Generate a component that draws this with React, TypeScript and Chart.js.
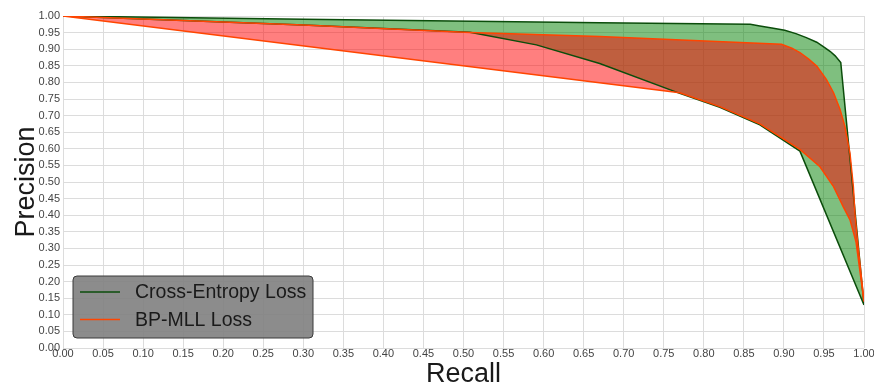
import React, { useEffect, useRef } from "react";
import { Chart, registerables } from "chart.js";

Chart.register(...registerables);

// Cross-Entropy Loss band
const ceUpperRecall = [0, 0.3, 0.67, 0.858, 0.87, 0.885, 0.901, 0.915, 0.928, 0.941, 0.951, 0.958, 0.964, 0.971, 1.0];
const ceUpperPrecision = [1, 0.99, 0.98, 0.975, 0.97, 0.964, 0.957, 0.947, 0.935, 0.921, 0.905, 0.893, 0.88, 0.86, 0.13];
const ceLowerRecall = [0, 0.3, 0.508, 0.591, 0.67, 0.77, 0.82, 0.87, 0.92, 1.0];
const ceLowerPrecision = [1, 0.973, 0.951, 0.913, 0.857, 0.767, 0.725, 0.672, 0.593, 0.13];

// BP-MLL Loss band
const bpUpperRecall = [0, 0.3, 0.508, 0.67, 0.897, 0.91, 0.92, 0.931, 0.941, 0.953, 0.962, 0.97, 0.976, 0.9825, 0.9867, 0.9888, 0.992, 1.0];
const bpUpperPrecision = [1, 0.973, 0.95, 0.938, 0.915, 0.903, 0.89, 0.87, 0.849, 0.809, 0.769, 0.719, 0.669, 0.586, 0.486, 0.4, 0.32, 0.14];
const bpLowerRecall = [0, 0.77, 0.82, 0.87, 0.92, 0.945, 0.962, 0.974, 0.9825, 0.99, 1.0];
const bpLowerPrecision = [1, 0.769, 0.727, 0.675, 0.598, 0.546, 0.486, 0.426, 0.386, 0.32, 0.14];

const seriesNames = ["Cross-Entropy Loss", "BP-MLL Loss"];
const lineColors = ["#0b4d0b", "#ff4500"];
const fillColors = ["rgba(0,128,0,0.5)", "rgba(255,0,0,0.5)"];
const axisTitles = { x: "Recall", y: "Precision" };

const pts = (xs: number[], ys: number[]) => xs.map((x, i) => ({ x, y: ys[i] }));

const FONT = "'Liberation Sans', Arial, sans-serif";

const overlayPlugin = {
  id: "overlay",
  afterDraw(chart: any) {
    const ctx = chart.ctx;
    const a = chart.chartArea;
    ctx.save();
    // axis titles
    ctx.fillStyle = "#1a1a1a";
    ctx.font = `27px ${FONT}`;
    ctx.textAlign = "center";
    ctx.textBaseline = "alphabetic";
    ctx.fillText(axisTitles.x, (a.left + a.right) / 2, 382);
    ctx.save();
    ctx.translate(34, (a.top + a.bottom) / 2);
    ctx.rotate(-Math.PI / 2);
    ctx.fillText(axisTitles.y, 0, 0);
    ctx.restore();

    // legend box
    const bx = 73, by = 276, bw = 240, bh = 62, r = 4;
    ctx.beginPath();
    ctx.moveTo(bx + r, by);
    ctx.lineTo(bx + bw - r, by);
    ctx.quadraticCurveTo(bx + bw, by, bx + bw, by + r);
    ctx.lineTo(bx + bw, by + bh - r);
    ctx.quadraticCurveTo(bx + bw, by + bh, bx + bw - r, by + bh);
    ctx.lineTo(bx + r, by + bh);
    ctx.quadraticCurveTo(bx, by + bh, bx, by + bh - r);
    ctx.lineTo(bx, by + r);
    ctx.quadraticCurveTo(bx, by, bx + r, by);
    ctx.closePath();
    ctx.fillStyle = "rgba(128,128,128,0.9)";
    ctx.fill();
    ctx.strokeStyle = "#3a3a3a";
    ctx.lineWidth = 1;
    ctx.stroke();

    const rows = [292, 319.5];
    ctx.font = `19.5px ${FONT}`;
    ctx.textAlign = "left";
    ctx.textBaseline = "middle";
    seriesNames.forEach((name, i) => {
      ctx.beginPath();
      ctx.moveTo(80, rows[i]);
      ctx.lineTo(120, rows[i]);
      ctx.strokeStyle = lineColors[i];
      ctx.lineWidth = 1.5;
      ctx.stroke();
      ctx.fillStyle = "#1a1a1a";
      ctx.fillText(name, 135, rows[i] + 1);
    });
    ctx.restore();
  },
};

export default function App() {
  const ref = useRef<HTMLCanvasElement | null>(null);
  useEffect(() => {
    document.body.style.margin = "0";
    const canvas = ref.current;
    if (!canvas) return;
    const ds = (data: any, color: string, fill: any, fillColor: string) => ({
      data,
      borderColor: color,
      backgroundColor: fillColor,
      borderWidth: 1.5,
      pointRadius: 0,
      tension: 0,
      fill,
    });
    const chart = new Chart(canvas, {
      type: "line",
      data: {
        datasets: [
          ds(pts(bpUpperRecall, bpUpperPrecision), lineColors[1], 1, fillColors[1]),
          ds(pts(bpLowerRecall, bpLowerPrecision), lineColors[1], false, fillColors[1]),
          ds(pts(ceUpperRecall, ceUpperPrecision), lineColors[0], 3, fillColors[0]),
          ds(pts(ceLowerRecall, ceLowerPrecision), lineColors[0], false, fillColors[0]),
        ],
      },
      options: {
        animation: false,
        responsive: false,
        maintainAspectRatio: false,
        events: [],
        layout: { padding: { top: 16, right: 10, left: 0, bottom: 0 } },
        plugins: {
          legend: { display: false },
          tooltip: { enabled: false },
          filler: { drawTime: "beforeDatasetsDraw" } as any,
        },
        scales: {
          x: {
            type: "linear",
            min: 0,
            max: 1,
            afterFit: (s: any) => {
              s.height = 36;
            },
            border: { display: false },
            grid: { color: "#dcdcdc", lineWidth: 1, drawTicks: false },
            ticks: {
              stepSize: 0.05,
              padding: -1,
              maxRotation: 0,
              autoSkip: false,
              color: "#444",
              font: { family: FONT, size: 11 },
              callback: (v: any) => Number(v).toFixed(2),
            },
          },
          y: {
            type: "linear",
            min: 0,
            max: 1,
            afterFit: (s: any) => {
              s.width = 63;
            },
            border: { display: false },
            grid: { color: "#dcdcdc", lineWidth: 1, drawTicks: false },
            ticks: {
              stepSize: 0.05,
              padding: 3,
              autoSkip: false,
              color: "#444",
              font: { family: FONT, size: 11 },
              callback: (v: any) => Number(v).toFixed(2),
            },
          },
        },
      },
      plugins: [overlayPlugin],
    });
    return () => chart.destroy();
  }, []);
  return (
    <div style={{ width: 874, height: 384 }}>
      <canvas ref={ref} width={874} height={384} style={{ display: "block" }} />
    </div>
  );
}
